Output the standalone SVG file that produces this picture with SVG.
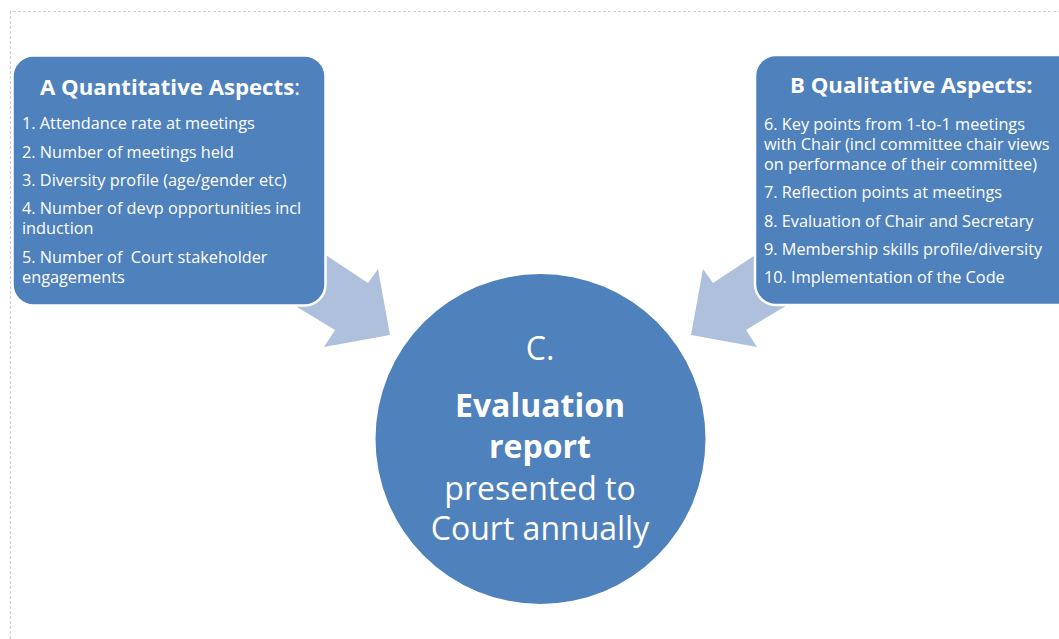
<svg xmlns="http://www.w3.org/2000/svg" width="1059" height="639" viewBox="0 0 1059 639">
<defs>
<style>
.box{fill:#4F81BD;stroke:#FFFFFF;stroke-width:2.5}
.arrow{fill:#AFC0DC}
.t{fill:#FFFFFF;font-family:"Open Sans","Noto Sans","Liberation Sans",sans-serif}
.title{font-size:22.2px;font-weight:bold}
.item{font-size:16.3px}
.big{font-size:32px;text-anchor:middle}
.frame{fill:none;stroke:#C8D0E2;stroke-width:1.2;stroke-dasharray:3 2}
</style>
</defs>
<rect width="1059" height="639" fill="#FFFFFF"/>
<path class="frame" d="M10.5,639 V11.5 H1059"/>
<g id="connectors">
<polygon class="arrow" points="300,238 368,283 378,269 390,335 324,347 335,330 292,304"/>
<polygon class="arrow" points="300,238 368,283 378,269 390,335 324,347 335,330 292,304" transform="translate(1081,0) scale(-1,1)"/>
</g>
<g id="nodeA">
<rect class="box" x="12.5" y="55.5" width="313" height="250" rx="21"/>
<text class="t title" x="40" y="95">A Quantitative Aspects<tspan font-weight="normal">:</tspan></text>
<text class="t item" x="22" y="129">1. Attendance rate at meetings</text>
<text class="t item" x="22" y="157.5">2. Number of meetings held</text>
<text class="t item" x="22" y="185.5">3. Diversity profile (age/gender etc)</text>
<text class="t item" x="22" y="214">4. Number of devp opportunities incl</text>
<text class="t item" x="22" y="234">induction</text>
<text class="t item" x="22" y="263" xml:space="preserve">5. Number of  Court stakeholder</text>
<text class="t item" x="22" y="283">engagements</text>
</g>
<g id="nodeB">
<rect class="box" x="755" y="55" width="330" height="250" rx="21"/>
<text class="t title" x="790" y="93">B Qualitative Aspects:</text>
<text class="t item" x="764" y="130">6. Key points from 1-to-1 meetings</text>
<text class="t item" x="764" y="150">with Chair (incl committee chair views</text>
<text class="t item" x="764" y="170">on performance of their committee)</text>
<text class="t item" x="764" y="198">7. Reflection points at meetings</text>
<text class="t item" x="764" y="227">8. Evaluation of Chair and Secretary</text>
<text class="t item" x="764" y="255">9. Membership skills profile/diversity</text>
<text class="t item" x="764" y="283">10. Implementation of the Code</text>
</g>
<g id="nodeC">
<circle cx="540.5" cy="439" r="165" fill="#4F81BD"/>
<text class="t big" x="540" y="360">C.</text>
<text class="t big" x="540" y="417" font-weight="bold">Evaluation</text>
<text class="t big" x="540" y="458" font-weight="bold">report</text>
<text class="t big" x="540" y="500">presented to</text>
<text class="t big" x="540" y="540">Court annually</text>
</g>
</svg>
